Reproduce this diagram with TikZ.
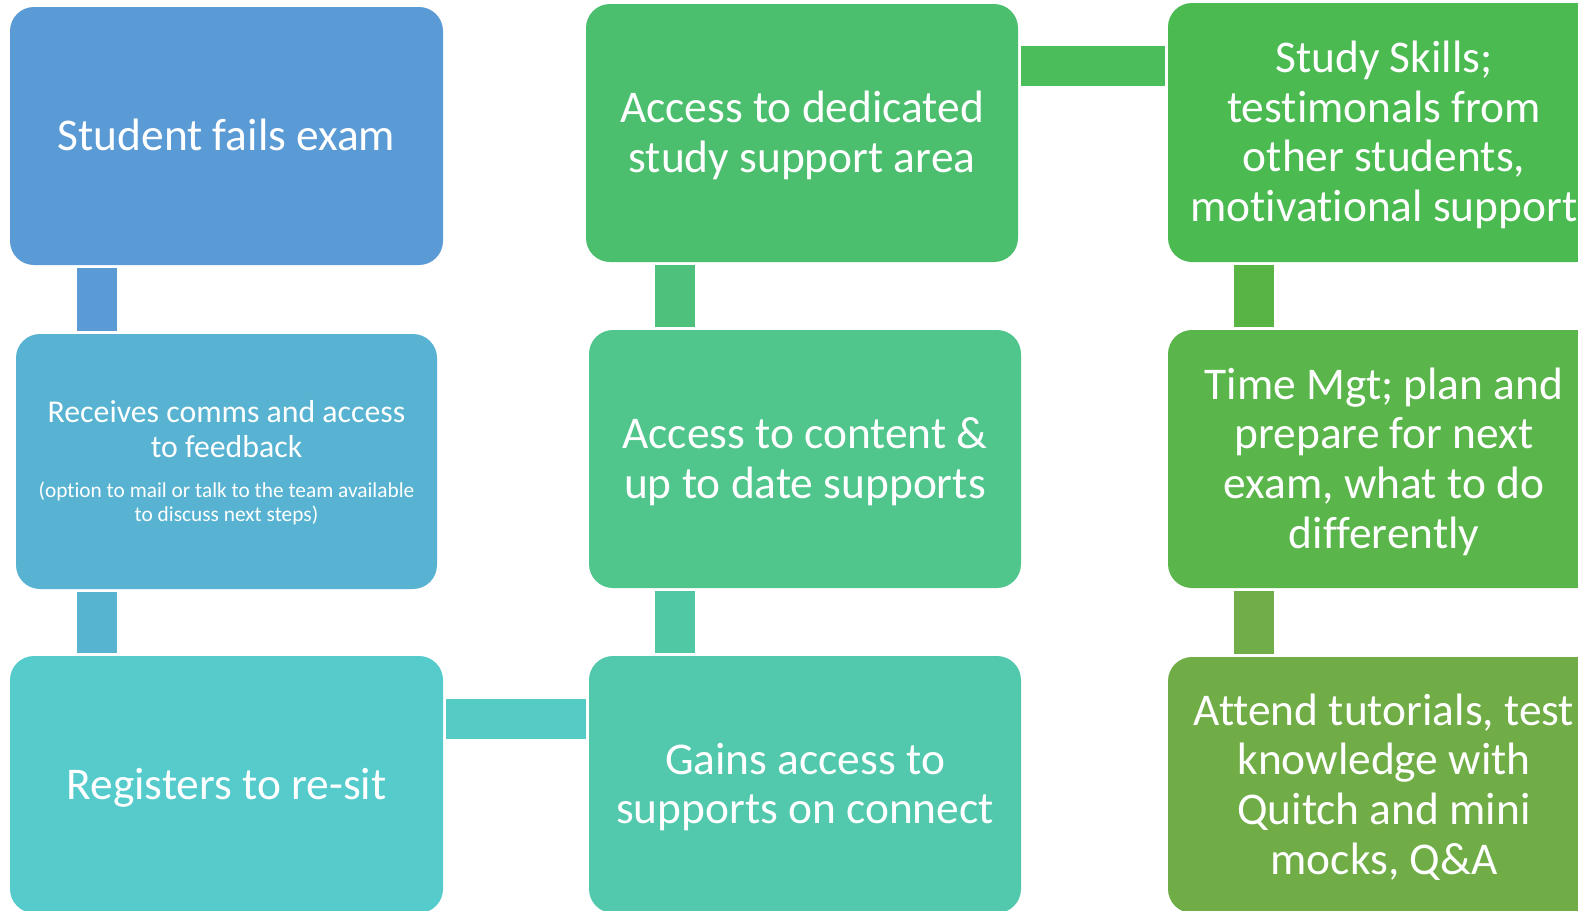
\documentclass[tikz,border=0pt]{standalone}
\usepackage{fontspec}
\setmainfont{Carlito}[RawFeature={-liga;-clig;-calt;-dlig}]
\definecolor{cA}{HTML}{5B9BD5}
\definecolor{cB}{HTML}{57B3D1}
\definecolor{cC}{HTML}{56CBCC}
\definecolor{cD}{HTML}{52C9AD}
\definecolor{cE}{HTML}{50C58C}
\definecolor{cF}{HTML}{4CBF6F}
\definecolor{cG}{HTML}{4ABA51}
\definecolor{cH}{HTML}{5AB64A}
\definecolor{cI}{HTML}{71AD47}
\definecolor{kAB}{HTML}{5B9BD5}
\definecolor{kBC}{HTML}{57B4D1}
\definecolor{kCD}{HTML}{55CBC5}
\definecolor{kDE}{HTML}{51C8A4}
\definecolor{kEF}{HTML}{4EC27C}
\definecolor{kFG}{HTML}{4BBD5A}
\definecolor{kGH}{HTML}{58B544}
\definecolor{kHI}{HTML}{71AD48}
\newcommand{\nsp}{\spaceskip=0pt\xspaceskip=0pt\relax}
\tikzset{
  box/.style={rectangle, rounded corners=12pt, draw=none, inner sep=0pt,
    text=white, align=flush center, anchor=center,
    font=\fontsize{22.7}{24.85}\selectfont, text height=14.62pt},
  one/.style={text depth=0pt},
  two/.style={text depth=24.85pt},
  four/.style={text depth=74.55pt},
  bar/.style={line width=20pt, line cap=butt, shorten <=1.5pt, shorten >=1.5pt}
}
\begin{document}
\begin{tikzpicture}[x=0.5pt,y=-0.5pt]
\useasboundingbox (0,0) rectangle (1578,910);
\clip (0,0) rectangle (1578,910);
\fill[white] (0,0) rectangle (1578,910);

\node[box, one, fill=cA, minimum width=216.5pt, minimum height=129pt, text width=212pt] (A) at (226.5,136) {\nsp Student fails exam};
\node[box, fill=cB, minimum width=210.5pt, minimum height=127.5pt, text width=208pt, text height=10.24pt, text depth=49.65pt] (B) at (226.5,461.5)
  {\nsp{\fontsize{15.9}{17.5}\selectfont\nsp Receives comms and access\\to feedback\par}\vspace{7.85pt}%
   {\fontsize{10.67}{12.15}\selectfont\nsp (option to mail or talk to the team available\\to discuss next steps)\par}};
\node[box, one, fill=cC, minimum width=216.5pt, minimum height=128.5pt, text width=212pt] (C) at (226.5,784.5) {\nsp Registers to re-sit};
\node[box, two, fill=cD, minimum width=216pt, minimum height=128.5pt, text width=212pt] (D) at (805,784.5) {\nsp Gains access to\\supports on connect};
\node[box, two, fill=cE, minimum width=216pt, minimum height=129pt, text width=212pt] (E) at (805,459) {\nsp Access to content \&\\up to date supports};
\node[box, two, fill=cF, minimum width=216pt, minimum height=129pt, text width=212pt] (F) at (802,133) {\nsp Access to dedicated\\study support area};
\node[box, four, fill=cG, minimum width=216pt, minimum height=129.5pt, text width=214pt] (G) at (1384,132.5) {\nsp Study Skills;\\testimonals from\\other students,\\motivational support};
\node[box, four, fill=cH, minimum width=216pt, minimum height=129pt, text width=214pt] (H) at (1384,459) {\nsp Time Mgt; plan and\\prepare for next\\exam, what to do\\differently};
\node[box, four, fill=cI, minimum width=216pt, minimum height=128pt, text width=214pt] (I) at (1384,785) {\nsp Attend tutorials, test\\knowledge with\\Quitch and mini\\mocks, Q\&A};

\coordinate (xL) at (97,0);
\coordinate (xM) at (674.5,0);
\coordinate (xR) at (1254,0);
\coordinate (yCD) at (0,718.5);
\coordinate (yFG) at (0,66);

\draw[bar, kAB] (xL |- A.south) -- (xL |- B.north);
\draw[bar, kBC] (xL |- B.south) -- (xL |- C.north);
\draw[bar, kCD] (C.east |- yCD) -- (D.west |- yCD);
\draw[bar, kDE] (xM |- D.north) -- (xM |- E.south);
\draw[bar, kEF] (xM |- E.north) -- (xM |- F.south);
\draw[bar, kFG] (F.east |- yFG) -- (G.west |- yFG);
\draw[bar, kGH] (xR |- G.south) -- (xR |- H.north);
\draw[bar, kHI] (xR |- H.south) -- (xR |- I.north);
\end{tikzpicture}
\end{document}
